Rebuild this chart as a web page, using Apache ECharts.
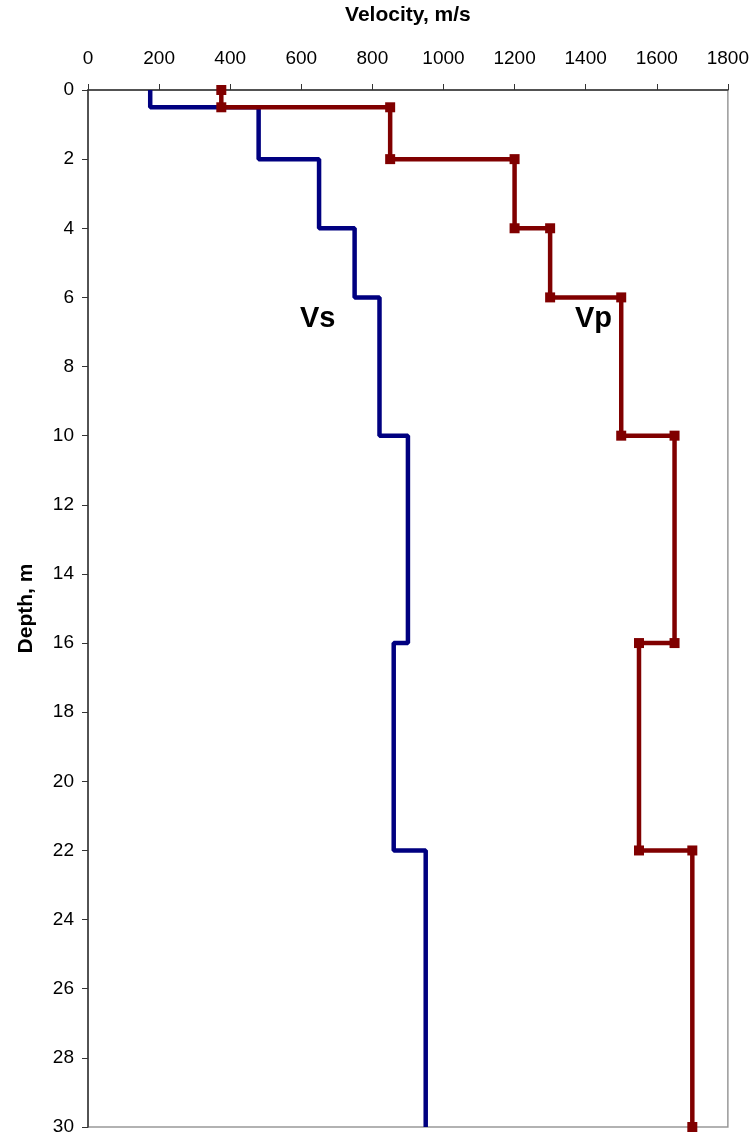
<!DOCTYPE html>
<html>
<head>
<meta charset="utf-8">
<script src="https://cdn.jsdelivr.net/npm/echarts@6/dist/echarts.min.js"></script>
<style>
html,body{margin:0;padding:0;background:#fff;}
#main{width:752px;height:1139px;}
</style>
</head>
<body>
<div id="main"></div>
<script>
// Layer boundaries (depth, m)
var depthBreaks = [0, 0.5, 2, 4, 6, 10, 16, 22, 30];
// Shear-wave velocity per layer (m/s)
var vsValues = [175, 480, 650, 750, 820, 900, 860, 950];
// Compression-wave velocity per layer (m/s)
var vpValues = [375, 850, 1200, 1300, 1500, 1650, 1550, 1700];
var xTicks = [0, 200, 400, 600, 800, 1000, 1200, 1400, 1600, 1800];
var yTicks = [0, 2, 4, 6, 8, 10, 12, 14, 16, 18, 20, 22, 24, 26, 28, 30];

function stepProfile(vals) {
  var pts = [];
  for (var i = 0; i < vals.length; i++) {
    pts.push([vals[i], depthBreaks[i]]);
    pts.push([vals[i], depthBreaks[i + 1]]);
  }
  return pts;
}

var chart = echarts.init(document.getElementById('main'));
var font = 'Liberation Sans, Arial, sans-serif';
chart.setOption({
  animation: false,
  backgroundColor: '#fff',
  grid: { left: 88, right: 24, top: 90, bottom: 12, show: true, borderColor: '#999', borderWidth: 1.5 },
  xAxis: {
    type: 'value', position: 'top', min: 0, max: 1800, interval: 200,
    name: 'Velocity, m/s', nameLocation: 'middle', nameGap: 64,
    nameTextStyle: { fontFamily: font, fontWeight: 'bold', fontSize: 21, color: '#000' },
    axisLine: { show: true, lineStyle: { color: '#333', width: 1.5 } },
    axisTick: { show: true, inside: false, length: 6, lineStyle: { color: '#333', width: 1 } },
    axisLabel: { fontFamily: font, fontSize: 19, color: '#000', margin: 22,
      formatter: function (v) { return xTicks.indexOf(v) >= 0 ? String(v) : ''; } },
    splitLine: { show: false }
  },
  yAxis: {
    type: 'value', inverse: true, min: 0, max: 30, interval: 2,
    name: 'Depth, m', nameLocation: 'middle', nameGap: 51, nameRotate: 90,
    nameTextStyle: { fontFamily: font, fontWeight: 'bold', fontSize: 21, color: '#000' },
    axisLine: { show: true, lineStyle: { color: '#333', width: 1.5 } },
    axisTick: { show: true, inside: false, length: 6, lineStyle: { color: '#333', width: 1 } },
    axisLabel: { fontFamily: font, fontSize: 19, color: '#000', margin: 14,
      formatter: function (v) { return yTicks.indexOf(v) >= 0 ? String(v) : ''; } },
    splitLine: { show: false }
  },
  series: [
    {
      name: 'Vs', type: 'line', data: stepProfile(vsValues),
      showSymbol: false, symbol: 'none',
      lineStyle: { color: '#000080', width: 4.5 },
      itemStyle: { color: '#000080' }
    },
    {
      name: 'Vp', type: 'line', data: stepProfile(vpValues),
      symbol: 'rect', symbolSize: 10, showSymbol: true,
      lineStyle: { color: '#800000', width: 4.5 },
      itemStyle: { color: '#800000' }
    }
  ],
  graphic: [
    { type: 'text', left: 300, top: 304, style: { text: 'Vs', fontFamily: font, fontWeight: 'bold', fontSize: 29, fill: '#000' } },
    { type: 'text', left: 575, top: 304, style: { text: 'Vp', fontFamily: font, fontWeight: 'bold', fontSize: 29, fill: '#000' } }
  ]
});
</script>
</body>
</html>
